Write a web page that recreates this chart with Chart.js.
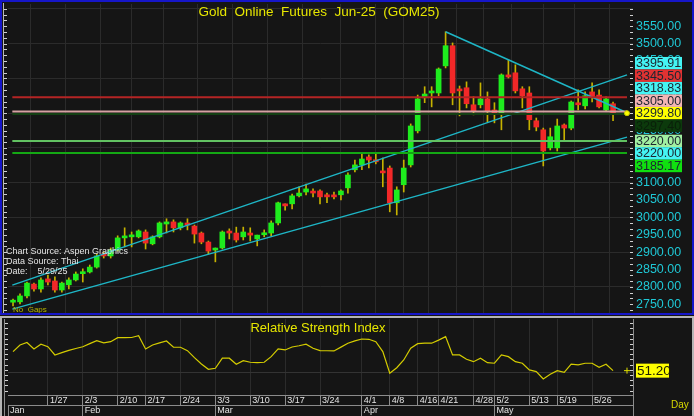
<!DOCTYPE html>
<html lang="en">
<head>
<meta charset="UTF-8">
<title>Gold Online Futures Jun-25 (GOM25)</title>
<script src="https://cdn.jsdelivr.net/npm/chart.js@4.4.1/dist/chart.umd.min.js"></script>
<style>
  body { margin: 0; background: #b4b4b4; width: 694px; height: 416px; overflow: hidden; position: relative; }
  #priceBox { position: absolute; left: 0; top: 0; width: 694px; height: 316px; }
  #rsiBox { position: absolute; left: 0; top: 316px; width: 694px; height: 100px; }
</style>
</head>
<body>
<div id="priceBox"><canvas id="priceChart"></canvas></div>
<div id="rsiBox"><canvas id="rsiChart"></canvas></div>
<script>
// daily bars, Jan 21 .. May 29 2025
const opens = [2756,2757,2774,2808,2794,2823,2817,2791,2806,2820, 2838,2843,2857,2895,2889,2906,2941,2944,2944,2958,
  2924,2944,2981,2987,2970,2984,2975,2955,2929,2906, 2912,2958,2955,2944,2955,2938,2950,2955,2984,3039,
  3039,3062,3073,3073,3076,3065,3062,3065,3085,3137, 3151,3174,3165,3131,3142,3042,3094,3151,3249,3344,
  3358,3358,3436,3494,3367,3373,3324,3324,3341,3309, 3298,3410,3416,3370,3358,3278,3252,3200,3200,3266,
  3257,3327,3321,3361,3352,3309,3327];
const highs = [2765,2780,2814,2811,2826,2834,2829,2814,2826,2843, 2852,2863,2895,2901,2912,2947,2970,2958,2964,2964,
  2947,2987,2996,2993,2987,2996,2978,2958,2932,2912, 2961,2967,2972,2972,2970,2949,2964,2990,3044,3039,
  3067,3088,3096,3082,3079,3070,3073,3079,3128,3165, 3186,3180,3186,3171,3148,3088,3165,3269,3352,3376,
  3376,3430,3534,3502,3378,3390,3347,3387,3361,3330, 3413,3453,3439,3376,3376,3286,3257,3257,3283,3269,
  3335,3367,3361,3387,3367,3347,3332];
const lows = [2745,2751,2768,2788,2785,2806,2785,2785,2794,2817, 2814,2840,2854,2883,2883,2903,2915,2915,2941,2909,
  2921,2941,2955,2958,2964,2964,2926,2924,2895,2872, 2909,2938,2929,2935,2932,2918,2944,2947,2978,3021,
  3024,3059,3065,3059,3039,3042,3053,3050,3070,3131, 3137,3142,3154,3088,3016,3007,3073,3145,3243,3330,
  3318,3350,3430,3324,3292,3315,3295,3315,3275,3272, 3252,3401,3358,3315,3252,3249,3148,3194,3191,3223,
  3252,3309,3312,3332,3315,3304,3278];
const closes = [2758,2774,2811,2794,2820,2814,2791,2811,2820,2837, 2840,2857,2889,2889,2906,2941,2944,2947,2961,2926,
  2944,2984,2987,2970,2984,2978,2952,2929,2903,2909, 2958,2955,2935,2958,2949,2949,2952,2984,3042,3033,
  3062,3070,3082,3070,3059,3059,3059,3076,3122,3151, 3168,3165,3160,3128,3042,3079,3142,3263,3341,3355,
  3361,3427,3494,3358,3364,3327,3306,3341,3306,3298, 3410,3404,3364,3350,3281,3260,3191,3232,3263,3257,
  3332,3324,3350,3347,3318,3341,3299.8];
const rsi = [64.8,69.5,71.3,66.7,70.1,68.3,62.4,64.1,65.7,67.0, 68.3,70.5,72.6,71.0,71.9,74.8,74.8,74.9,76.2,66.7,
  69.5,71.0,72.4,67.9,67.9,65.5,60.5,56.0,52.2,52.9, 60.1,60.1,55.8,58.3,57.2,57.0,57.2,61.2,66.7,66.0,
  68.1,69.0,70.1,67.2,65.5,65.4,65.3,68.0,70.8,72.5, 73.8,73.6,71.9,64.8,49.3,53.3,58.8,67.2,70.5,70.8,
  70.8,73.0,75.5,62.4,62.4,59.3,57.6,60.1,56.9,56.5, 62.4,61.2,57.6,56.5,51.7,50.5,45.3,48.6,51.2,50.0,
  55.8,55.3,56.5,56.5,53.6,55.8,51.2];

const weekTicks = [5, 10, 15, 19, 24, 29, 34, 39, 44, 50, 54, 58, 61, 66, 69, 74, 78, 83];
const weekLabels = ['1/27','2/3','2/10','2/17','2/24','3/3','3/10','3/17','3/24','4/1','4/8','4/16','4/21','4/28','5/2','5/13','5/19','5/26'];
const monthTicks = [-0.72, 10, 29, 50, 69];
const monthLabels = ['Jan','Feb','Mar','Apr','May'];

const levelValues = [3345.5, 3305.0, 3297.4, 3220.0, 3185.17];
const upperChannel = [[-0.1, 2805], [88, 3410]];
const lowerChannel = [[-0.1, 2736], [88, 3231]];
const fallingLine = [[62, 3534], [88, 3301]];
const lastPrice = 3299.80;
const lastRsi = 51.20;
const boxValues = [3395.91, 3345.50, 3318.83, 3305.00, 3299.80, 3297.40, 3220.00, 3220.00, 3185.17];

// styles
const levelColors = ['#b42424', '#d6a2a2', '#134013', '#62c262', '#14a814'];
const boxColors = ['#44f4f4', '#e23232', '#44f4f4', '#f2b4b4', '#ffff00', '#0c3a0c', '#a2f0a2', '#44f4f4', '#10e010'];
const FONT = 'Arial, "Liberation Sans", sans-serif';
const X_MIN = -0.72, X_MAX = 88.86;
const Y_MIN = 2722, Y_MAX = 3614;
const R_MIN = 33.8, R_MAX = 88.1;

const idx = opens.map((_, i) => i);
const pts = arr => arr.map(p => ({x: p[0], y: p[1]}));

function lineSet(data, color, width) {
  return { type: 'line', data: data, borderColor: color, borderWidth: width, pointRadius: 0, order: 1 };
}

function rulerTicks(ctx, scale, x0, x1, step) {
  ctx.strokeStyle = '#d0d0d0';
  ctx.lineWidth = 1;
  ctx.beginPath();
  for (let v = Math.ceil(scale.min / step) * step; v <= scale.max; v += step) {
    const y = Math.round(scale.getPixelForValue(v)) + 0.5;
    ctx.moveTo(x0, y); ctx.lineTo(x1, y);
  }
  ctx.stroke();
}

const priceDecor = {
  id: 'priceDecor',
  beforeDraw(chart) {
    const ctx = chart.ctx;
    ctx.save();
    ctx.fillStyle = '#151515';
    ctx.fillRect(0, 0, chart.width, chart.height);
    ctx.restore();
  },
  afterDraw(chart) {
    const ctx = chart.ctx;
    const y = chart.scales.y;
    ctx.save();
    // title
    ctx.font = '13.5px ' + FONT;
    ctx.fillStyle = '#e6e600';
    ctx.textAlign = 'center';
    ctx.textBaseline = 'middle';
    ctx.fillText('Gold  Online  Futures  Jun-25  (GOM25)', 319, 12);
    // source notes
    ctx.textAlign = 'left';
    ctx.font = '9px ' + FONT;
    ctx.fillStyle = '#e4e4e4';
    ctx.fillText('Chart Source: Aspen Graphics', 6, 252);
    ctx.fillText('Data Source: Thai', 6, 262);
    ctx.fillText('Date:    5/29/25', 6, 272);
    ctx.font = '8px ' + FONT;
    ctx.fillStyle = '#b4b400';
    ctx.fillText('No  Gaps', 13, 310);
    // rulers
    ctx.strokeStyle = '#b8b8b8';
    ctx.beginPath(); ctx.moveTo(3.5, 3); ctx.lineTo(3.5, 313); ctx.stroke();
    rulerTicks(ctx, y, 4, 7, 50 / 3);
    rulerTicks(ctx, y, 630, 633, 50 / 3);
    // price boxes
    const h = 12.5;
    const ys = boxValues.map(v => y.getPixelForValue(v));
    const a = boxValues.indexOf(lastPrice);
    for (let k = a + 1; k < ys.length; k++) ys[k] = Math.max(ys[k], ys[k - 1] + h);
    for (let k = a - 1; k >= 0; k--) ys[k] = Math.min(ys[k], ys[k + 1] - h);
    ctx.font = '12.5px ' + FONT;
    ctx.textBaseline = 'middle';
    boxValues.forEach((v, k) => {
      ctx.fillStyle = boxColors[k];
      ctx.fillRect(635, ys[k] - h / 2, 47, h);
      ctx.fillStyle = k === 5 ? '#0a200a' : '#1c2630';
      ctx.fillText(v.toFixed(2), 636, ys[k] + 0.5);
    });
    // frame
    ctx.strokeStyle = '#1616c8';
    ctx.lineWidth = 2;
    ctx.strokeRect(1, 1, chart.width - 2, 313);
    ctx.restore();
  }
};

new Chart(document.getElementById('priceChart'), {
  type: 'bar',
  data: {
    datasets: [
      { data: idx.map(i => ({x: i, y: [lows[i], highs[i]]})), backgroundColor: '#c6b200',
        barThickness: 1, grouped: false, order: 3 },
      { data: idx.map(i => ({x: i, y: [opens[i], closes[i]]})),
        backgroundColor: c => closes[c.dataIndex] >= opens[c.dataIndex] ? '#1eec1e' : '#f22828',
        barThickness: 5, minBarLength: 2, grouped: false, order: 2 },
      ...levelValues.map((v, k) => lineSet([{x: -0.1, y: v}, {x: 88, y: v}], levelColors[k], 2)),
      lineSet(pts(upperChannel), '#1eb6c6', 1.5),
      lineSet(pts(lowerChannel), '#1eb6c6', 1.5),
      lineSet(pts(fallingLine), '#1eb6c6', 1.5),
      { type: 'line', data: [{x: 88, y: lastPrice}], showLine: false, pointRadius: 2.5,
        pointBackgroundColor: '#ffff00', pointBorderColor: '#c8c800', order: 0 }
    ]
  },
  options: {
    animation: false,
    responsive: true,
    maintainAspectRatio: false,
    layout: { autoPadding: false, padding: { left: 8, top: 4, right: 0, bottom: 2 } },
    plugins: { legend: { display: false }, tooltip: { enabled: false } },
    scales: {
      x: {
        type: 'linear', min: X_MIN, max: X_MAX, offset: false,
        afterBuildTicks: axis => { axis.ticks = weekTicks.map(v => ({value: v})); },
        afterFit: axis => { axis.height = 0; axis.paddingLeft = 0; axis.paddingRight = 0; },
        ticks: { display: false },
        border: { display: false },
        grid: { color: '#2b2b2b', drawTicks: false }
      },
      y: {
        position: 'right', min: Y_MIN, max: Y_MAX,
        afterFit: axis => { axis.width = 61; axis.paddingTop = 0; axis.paddingBottom = 0; },
        ticks: {
          stepSize: 50, includeBounds: false, autoSkip: false, padding: 3, color: '#1fc8d6',
          font: { family: FONT, size: 12.5 },
          callback: v => v > 3575 ? '' : v.toFixed(2)
        },
        grid: { color: c => (c.tick && c.tick.value % 100 === 0) ? '#2b2b2b' : 'rgba(0,0,0,0)', drawTicks: false },
        border: { display: false }
      }
    }
  },
  plugins: [priceDecor]
});

const rsiDecor = {
  id: 'rsiDecor',
  beforeDraw(chart) {
    const ctx = chart.ctx;
    ctx.save();
    ctx.fillStyle = '#151515';
    ctx.fillRect(0, 0, chart.width, chart.height);
    ctx.fillStyle = '#b4b4b4';
    ctx.fillRect(0, 0, chart.width, 2);
    ctx.fillRect(0, 0, 2, chart.height);
    ctx.fillRect(chart.width - 2, 0, 2, chart.height);
    ctx.restore();
  },
  afterDraw(chart) {
    const ctx = chart.ctx;
    const y = chart.scales.y;
    const area = chart.chartArea;
    ctx.save();
    ctx.font = '13px ' + FONT;
    ctx.fillStyle = '#e6e600';
    ctx.textAlign = 'center';
    ctx.textBaseline = 'middle';
    ctx.fillText('Relative Strength Index', 318, 12);
    ctx.strokeStyle = '#8c8c8c';
    ctx.lineWidth = 1;
    ctx.beginPath();
    ctx.moveTo(4.5, 3); ctx.lineTo(4.5, chart.height);
    ctx.moveTo(area.right + 0.5, 3); ctx.lineTo(area.right + 0.5, chart.height);
    ctx.stroke();
    rulerTicks(ctx, y, 5, 8, 3.7);
    rulerTicks(ctx, y, 630, 633, 3.7);
    // last value box
    const yv = y.getPixelForValue(lastRsi);
    ctx.fillStyle = '#ffff00';
    ctx.fillRect(636, yv - 7, 33, 14);
    ctx.fillStyle = '#202000';
    ctx.font = '13.5px ' + FONT;
    ctx.textAlign = 'left';
    ctx.fillText(lastRsi.toFixed(2), 637, yv + 0.5);
    ctx.font = '10px ' + FONT;
    ctx.fillStyle = '#d8d800';
    ctx.fillText('Day', 671, 89);
    ctx.restore();
  }
};

const xRow = (ticks, labels, h, weight, onArea) => ({
  type: 'linear', position: 'bottom', min: X_MIN, max: X_MAX, offset: false, weight: weight,
  afterBuildTicks: axis => { axis.ticks = ticks.map(v => ({value: v})); },
  afterFit: axis => { axis.height = h; axis.paddingLeft = 0; axis.paddingRight = 0; },
  ticks: {
    autoSkip: false, maxRotation: 0, align: 'start', labelOffset: 2, padding: -h,
    color: '#e4e4e4', font: { family: FONT, size: 9 },
    callback: (v, i) => labels[i]
  },
  grid: { color: '#2b2b2b', tickColor: '#8c8c8c', tickLength: h, drawOnChartArea: onArea },
  border: { display: true, color: '#8c8c8c' }
});

new Chart(document.getElementById('rsiChart'), {
  type: 'line',
  data: {
    datasets: [
      { data: idx.map(i => ({x: i, y: rsi[i]})), borderColor: '#d4cc00', borderWidth: 1.2, pointRadius: 0 },
      { data: [{x: 88, y: lastRsi}], showLine: false, pointStyle: 'cross', pointRadius: 3,
        borderColor: '#e0e000', borderWidth: 1 }
    ]
  },
  options: {
    animation: false,
    responsive: true,
    maintainAspectRatio: false,
    layout: { autoPadding: false, padding: { left: 8, top: 3, right: 0, bottom: 0 } },
    plugins: { legend: { display: false }, tooltip: { enabled: false } },
    scales: {
      x: xRow(weekTicks, weekLabels, 10, 0, true),
      x2: xRow(monthTicks, monthLabels, 11, 1, false),
      y: {
        position: 'right', min: R_MIN, max: R_MAX,
        afterFit: axis => { axis.width = 61; axis.paddingTop = 0; axis.paddingBottom = 0; },
        afterBuildTicks: axis => { axis.ticks = [{value: 50}]; },
        ticks: { display: false },
        grid: { color: '#333333', drawTicks: false },
        border: { display: false }
      }
    }
  },
  plugins: [rsiDecor]
});
</script>
</body>
</html>
